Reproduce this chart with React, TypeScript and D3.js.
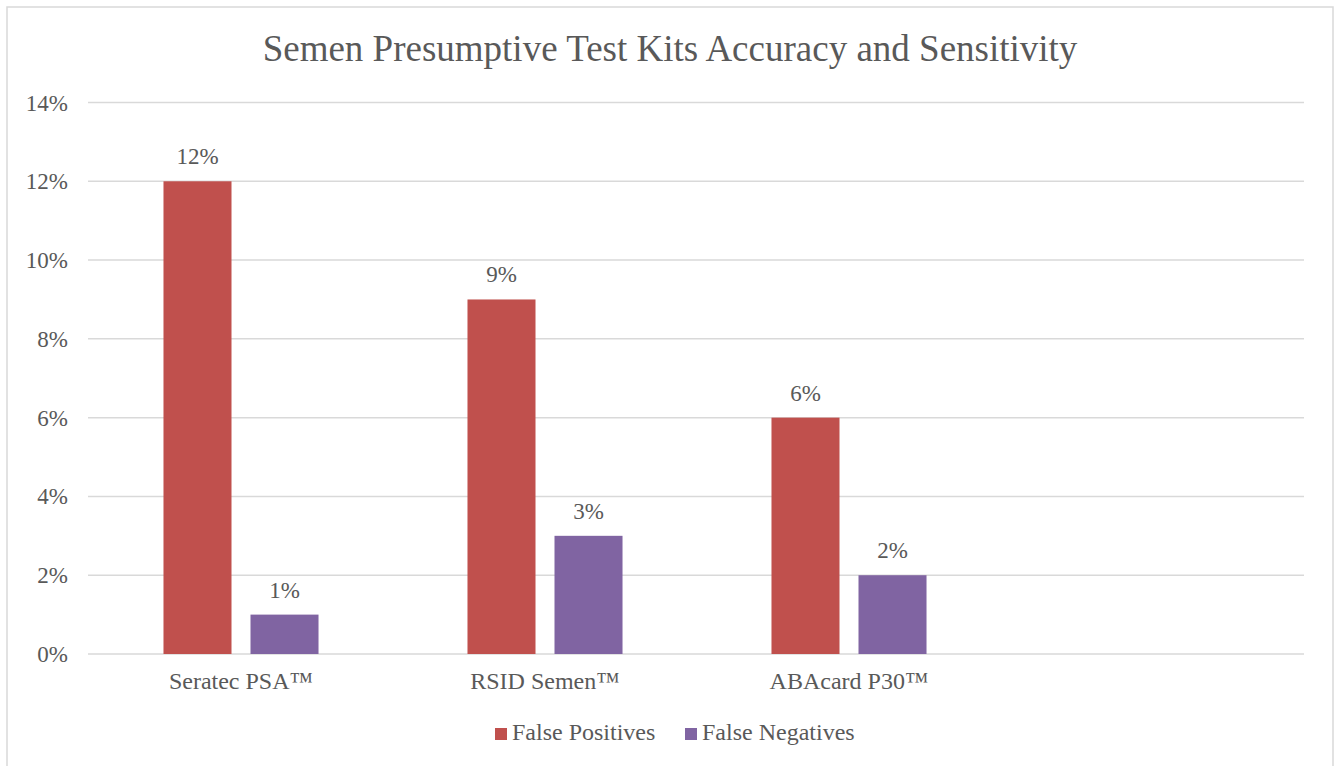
import React from "react";
import * as d3 from "d3";

const categories = ["Seratec PSA™", "RSID Semen™", "ABAcard P30™", ""];
const seriesNames = ["False Positives", "False Negatives"];
const falsePositives = [12, 9, 6];
const falseNegatives = [1, 3, 2];
const yTicks = [0, 2, 4, 6, 8, 10, 12, 14];
const colors = ["#c0504d", "#8064a2"];

const W = 1339;
const H = 766;
const FONT = "Liberation Serif, Times New Roman, serif";
const TEXT = "#595959";

export default function App() {
  const x = d3.scaleBand<string>().domain(categories).range([89, 1305]).paddingInner(0).paddingOuter(0);
  const xs = d3
    .scaleBand<string>()
    .domain(seriesNames)
    .range([0, x.bandwidth()])
    .paddingInner(19 / 87)
    .paddingOuter(0.856);
  const y = d3.scaleLinear().domain([0, 14]).range([654, 102.5]);
  const series = [falsePositives, falseNegatives];

  return (
    <svg
      width={W}
      height={H}
      style={{ position: "absolute", left: 0, top: 0, background: "#fff", fontFamily: FONT }}
    >
      <rect x={7} y={7} width={1326} height={800} fill="#fff" stroke="#d9d9d9" strokeWidth={1.5} />
      <text x={670} y={61} textAnchor="middle" fontSize={37} fill={TEXT}>
        Semen Presumptive Test Kits Accuracy and Sensitivity
      </text>
      {yTicks.map((t) => (
        <g key={t}>
          <line x1={88} x2={1304} y1={y(t)} y2={y(t)} stroke="#d9d9d9" strokeWidth={1.5} />
          <text x={68} y={y(t) + 8} textAnchor="end" fontSize={23} fill={TEXT}>
            {t}%
          </text>
        </g>
      ))}
      {series.map((vals, si) =>
        vals.map((v, ci) => {
          const bx = (x(categories[ci]) as number) + (xs(seriesNames[si]) as number);
          return (
            <g key={`${si}-${ci}`}>
              <rect x={bx} y={y(v)} width={xs.bandwidth()} height={y(0) - y(v)} fill={colors[si]} />
              <text x={bx + xs.bandwidth() / 2} y={y(v) - 17} textAnchor="middle" fontSize={23} fill={TEXT}>
                {v}%
              </text>
            </g>
          );
        })
      )}
      {categories.map((c) => (
        <text key={c} x={(x(c) as number) + x.bandwidth() / 2} y={689} textAnchor="middle" fontSize={24} fill={TEXT}>
          {c}
        </text>
      ))}
      {seriesNames.map((s, i) => {
        const lx = i === 0 ? 495 : 685;
        return (
          <g key={s}>
            <rect x={lx} y={728} width={12} height={12} fill={colors[i]} />
            <text x={lx + 17} y={740} fontSize={24} fill={TEXT}>
              {s}
            </text>
          </g>
        );
      })}
    </svg>
  );
}
